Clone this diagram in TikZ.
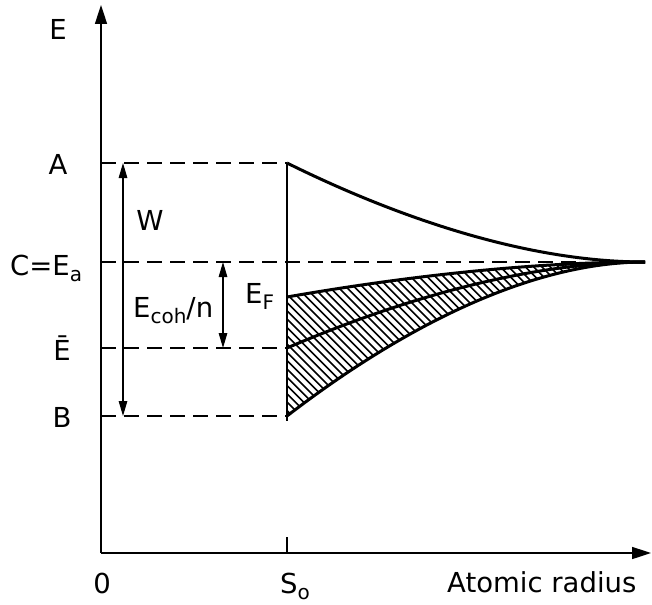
\documentclass[tikz,border=0pt]{standalone}
\usepackage{fontspec}
\setmainfont{DejaVu Sans}
\usetikzlibrary{arrows.meta}
\newcommand\lowtxt[1]{\raisebox{-0.25em}{\fontsize{20}{22}\selectfont #1}}
\begin{document}
\begin{tikzpicture}[x=1pt,y=-1pt,
  axis/.style={line width=1.6pt,-{Triangle[length=19pt,width=12pt]}},
  dimarrow/.style={line width=1.3pt,{Triangle[length=15pt,width=8.5pt]}-{Triangle[length=15pt,width=8.5pt]}},
  level/.style={line width=1.4pt,dash pattern=on 15pt off 8pt},
  thinline/.style={line width=1.4pt},
  curve/.style={line width=3pt},
  hatchline/.style={line width=1.6pt},
  lbl/.style={inner sep=0pt,font=\fontsize{27.5}{30}\selectfont}]
\useasboundingbox (0,0) rectangle (652,604);
% coordinates
\coordinate (O) at (101,553);
\coordinate (Ytop) at (101,5);
\coordinate (Xend) at (651,553);
\coordinate (LA) at (101,163);
\coordinate (LC) at (101,262);
\coordinate (LE) at (101,348);
\coordinate (LB) at (101,416);
\coordinate (A) at (287,163);
\coordinate (F) at (287,297);
\coordinate (M) at (287,348);
\coordinate (B) at (287,416);
\coordinate (Sbot) at (287,421);
\coordinate (Stick) at (287,537);
\coordinate (Sax) at (287,553);
\coordinate (Cend) at (580,262);
\coordinate (P) at (645,262);
\coordinate (Wt) at (123,163);
\coordinate (Wb) at (123,416);
\coordinate (Kt) at (223,262);
\coordinate (Kb) at (223,348);
% hatching
\begin{scope}
\clip (F) .. controls (387,279.5) and (520,262) .. (P) .. controls (520,262) and (387,339) .. (B) -- cycle;
\foreach \k in {0,...,66} {\draw[hatchline] ({\k*8.3-140+255},255) -- ++(170,170);}
\end{scope}
% axes
\draw[axis] (O) -- (Ytop);
\draw[axis] (O) -- (Xend);
% levels
\draw[level] (LA) -- (A);
\draw[level] (LC) -- (Cend);
\draw[level] (LE) -- (M);
\draw[level] (LB) -- (B);
% S0 line and tick
\draw[thinline] (A) -- (Sbot);
\draw[thinline] (Stick) -- (Sax);
% curves
\draw[curve] (A) .. controls (387,212.5) and (520,262) .. (P);
\draw[curve] (F) .. controls (387,279.5) and (520,262) .. (P);
\draw[curve] (M) .. controls (387,305) and (520,262) .. (P);
\draw[curve] (B) .. controls (387,339) and (520,262) .. (P);
% dimension arrows
\draw[dimarrow] (Wt) -- (Wb);
\draw[dimarrow] (Kt) -- (Kb);
% labels
\node[lbl,anchor=base] (lE) at (58,40) {E};
\node[lbl,anchor=base] (lA) at (58,174) {A};
\node[lbl,anchor=base west] (lC) at (10,275) {C=E\lowtxt{a}};
\node[lbl,anchor=base] (lW) at (150,230) {W};
\node[lbl,anchor=base west] (lK) at (133,317) {E\lowtxt{coh}/n};
\node[lbl,anchor=base west] (lF) at (245,303) {E\lowtxt{F}};
\node[lbl,anchor=base] (lEb) at (62,360) {Ē};
\node[lbl,anchor=base] (lB) at (62,427) {B};
\node[lbl,anchor=base] (l0) at (102,593) {0};
\node[lbl,anchor=base west] (lS) at (280,593) {S\lowtxt{o}};
\node[lbl,anchor=base west] (lX) at (447,592) {Atomic radius};
\end{tikzpicture}
\end{document}
